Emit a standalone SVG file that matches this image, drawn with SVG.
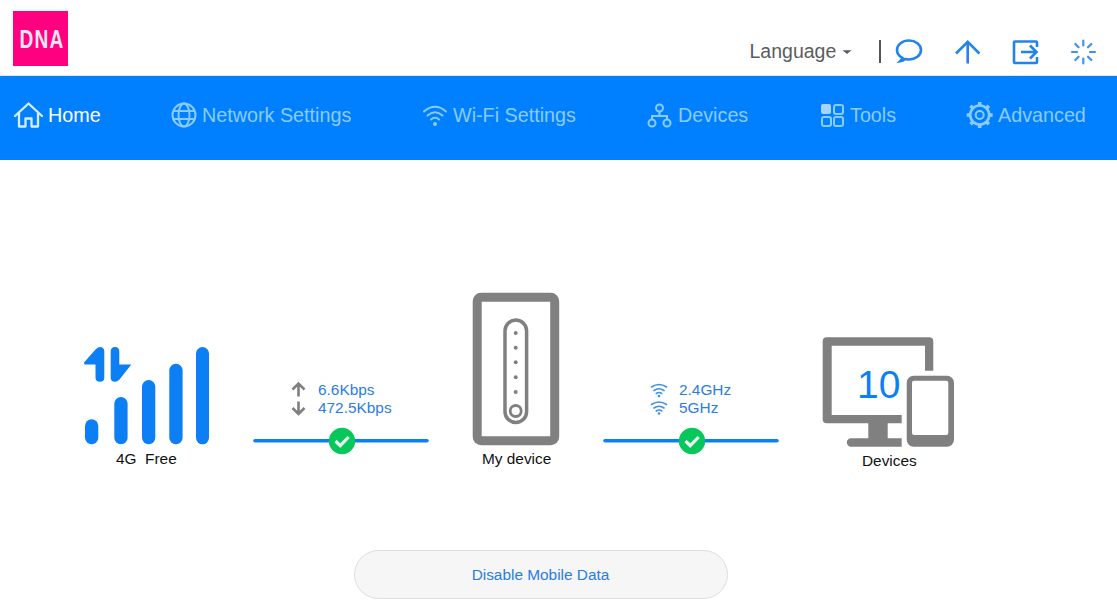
<svg xmlns="http://www.w3.org/2000/svg" width="1117" height="611" viewBox="0 0 1117 611">
<style>
text{font-family:"Liberation Sans",Arial,sans-serif}
.nav{font-size:19.75px;fill:#8accff}
.ni{fill:none;stroke:#8accff;stroke-width:2}
.top{fill:none;stroke:#2284ea;stroke-width:2.6}
.lbl{font-size:15.4px;fill:#111}
.blue{font-size:15.4px;fill:#2a7de1}
.gray{fill:#808080}
.bar{fill:#0d7ff5}
.link{stroke:#0d7ff5;stroke-width:3.6;stroke-linecap:round;fill:none}
.wifi{fill:none;stroke:#3d8fe8;stroke-width:1.6;stroke-linecap:round}
.arr{fill:none;stroke:#808080;stroke-width:2.6}
</style>
<rect width="1117" height="611" fill="#fff"/>
<g id="logo"><rect x="13" y="11" width="55" height="55" fill="#ff0080"/><text transform="translate(19.500 48) scale(.72 1)" x="0 20.800 41.600" y="0" font-size="26.500" font-weight="700" style="fill:#ffe6f2">DNA</text></g>
<g id="topbar">
<text x="749.500" y="58" font-size="19.5" fill="#5c5c5c">Language</text>
<path d="M842.500 50.300h9l-4.500 3.600z" fill="#5c5c5c"/>
<path d="M880 40v23" stroke="#555" stroke-width="2"/>
<path class="top" d="M902.500 58c-3.500-2-5.500-4.700-5.500-8 0-5.500 5.500-9.500 12-9.500s12 4 12 9.500-5.500 9.500-12 9.500c-1.300 0-2.600-.2-3.800-.5-1.500 1.300-3.200 2-5.200 2.300 1.300-1.300 2.400-2.300 2.500-3.300z"/>
<path class="top" d="M967.700 63.500V42M956 53.500l11.700-11.700 11.700 11.700"/>
<path class="top" d="M1037 47v-4.500a1 1 0 0 0-1-1h-21a1 1 0 0 0-1 1v19.500a1 1 0 0 0 1 1h21a1 1 0 0 0 1-1V57M1021 52h15.500M1030 45.500l6.500 6.500-6.500 6.500"/>
<g class="top" stroke-linecap="round" style="stroke-width:2.200;stroke:#3f93ec"><path d="M1083.300 40.500v5M1083.300 58.500v5M1072 52h5M1090 52h5M1075.300 44l3.300 3.300M1088 56.700l3.300 3.300M1075.300 60l3.300-3.300M1088 47.300l3.300-3.300"/></g>
</g>
<rect x="0" y="75" width="1117" height="1" fill="#e6e6e6"/>
<rect x="0" y="76" width="1117" height="84" fill="#007fff"/>
<g id="nav-home"><path d="M15 116l13.500-12.500L42 116M19 113v13.500h6.500v-8h6v8H38V113" fill="none" stroke="#d8ecff" stroke-width="2.300" stroke-linejoin="round" stroke-linecap="round"/><text x="48" y="122" font-size="19.75" style="fill:#fff">Home</text></g>
<g id="nav-network"><circle class="ni" cx="184" cy="115" r="11.500"/><ellipse class="ni" cx="184" cy="115" rx="5.500" ry="11.500"/><path class="ni" d="M173 111h22M173 119h22"/><text class="nav" x="202" y="122">Network Settings</text></g>
<g id="nav-wifi"><path class="ni" stroke-linecap="round" d="M424 111.500q11-9.500 22 0M427.500 115.500q7.500-6.500 15 0M431 119.500q4-3.500 8 0"/><circle cx="435" cy="124" r="2" fill="#8accff"/><text class="nav" x="453" y="122">Wi-Fi Settings</text></g>
<g id="nav-devices"><circle class="ni" cx="659.500" cy="108" r="3.500"/><circle class="ni" cx="652" cy="123" r="3.500"/><circle class="ni" cx="667" cy="123" r="3.500"/><path class="ni" d="M659.500 111.500v4.500M652 119.500V116h15v3.500"/><text class="nav" x="678" y="122">Devices</text></g>
<g id="nav-tools"><rect x="821" y="104" width="10" height="10" rx="2" fill="#a6d3ff"/><rect class="ni" x="834" y="105" width="9" height="9" rx="2"/><rect class="ni" x="822" y="117" width="9" height="9" rx="2"/><rect class="ni" x="834" y="117" width="9" height="9" rx="2"/><text class="nav" x="850" y="122">Tools</text></g>
<g id="nav-advanced"><circle cx="979.700" cy="115" r="9.500" fill="none" stroke="#8accff" stroke-width="2.600"/><circle class="ni" cx="979.700" cy="115" r="4"/><path d="M979.700 102v4M979.700 124v4M966.700 115h4M988.700 115h4M970.500 105.800l2.800 2.800M986.100 121.400l2.800 2.800M970.500 124.200l2.800-2.800M986.100 108.600l2.800-2.800" stroke="#8accff" stroke-width="3.500" fill="none"/><text class="nav" x="998" y="122">Advanced</text></g>
<g id="connectors">
<path class="link" d="M255 440.700h172"/>
<path class="link" d="M605 440.700h172"/>
</g>
<g id="link-status-internet"><circle cx="342" cy="441" r="13.200" fill="#05c75a"/><path d="M335.500 441l4.700 4.700 8.500-8.700" fill="none" stroke="#e8fff0" stroke-width="3.200"/>
<path class="arr" d="M298.500 396.500V384M292.500 389.500l6-6 6 6M298.500 401.500V414M292.500 408l6 6 6-6"/>
<text class="blue" x="318" y="395">6.6Kbps</text><text class="blue" x="318" y="413">472.5Kbps</text></g>
<g id="link-status-wifi"><circle cx="692" cy="441" r="13.200" fill="#05c75a"/><path d="M685.500 441l4.700 4.700 8.500-8.700" fill="none" stroke="#e8fff0" stroke-width="3.200"/>
<path class="wifi" d="M651.500 387q7.500-5 15 0M654 390.500q5-3.500 10 0M656.300 393.500q2.700-2 5.400 0"/><circle cx="659" cy="396" r="1.300" fill="#3d8fe8"/>
<path class="wifi" d="M651.500 404.500q7.500-5 15 0M654 408q5-3.500 10 0M656.300 411q2.700-2 5.400 0"/><circle cx="659" cy="413.500" r="1.300" fill="#3d8fe8"/>
<text class="blue" x="679" y="395">2.4GHz</text><text class="blue" x="679" y="413">5GHz</text></g>
<g id="node-signal">
<rect class="bar" x="85" y="419.300" width="13.300" height="25" rx="6.600"/>
<rect class="bar" x="114.300" y="397" width="13.300" height="47.300" rx="6.600"/>
<rect class="bar" x="142" y="380" width="13.300" height="64.300" rx="6.600"/>
<rect class="bar" x="169.300" y="363.700" width="13.300" height="80.600" rx="6.600"/>
<rect class="bar" x="196" y="347" width="13" height="97.300" rx="6.500"/>
<path class="bar" d="M84 362.500L95.500 349.500Q97.500 347 100 347Q104.300 347 104.300 351.500V377.500Q104.300 381.800 100 381.800Q95.500 381.800 95.500 377.500V364.500H84.500Z"/>
<path class="bar" d="M131.300 364.500L119.500 379.500Q117.500 381.800 115 381.800Q110.700 381.800 110.700 377.500V351.500Q110.700 347 115 347Q119.300 347 119.300 351.500V364.500Z"/>
<text class="lbl" x="116" y="464" xml:space="preserve">4G  Free</text>
</g>
<g id="node-router">
<rect x="477.200" y="297.300" width="77.500" height="143.500" rx="4" fill="none" stroke="#808080" stroke-width="9"/>
<rect x="505" y="320" width="21.600" height="102.500" rx="10.800" fill="none" stroke="#808080" stroke-width="3.500"/>
<g class="gray"><circle cx="515.700" cy="333" r="2"/><circle cx="515.700" cy="347.700" r="2"/><circle cx="515.700" cy="362.300" r="2"/><circle cx="515.700" cy="377.300" r="2"/><circle cx="515.700" cy="392" r="2"/></g>
<circle cx="515.700" cy="411" r="5.500" fill="none" stroke="#808080" stroke-width="2.800"/>
<text class="lbl" x="482" y="464">My device</text>
</g>
<g id="node-devices">
<path class="gray" d="M826.700 337.300H929.300a4 4 0 0 1 4 4V370.700H925V345.700H831.700V415H901.700V423.300H887.700V438.300H901.700V446.700H851a4.200 4.200 0 0 1 0-8.400H868.300V423.300H826.700a4 4 0 0 1-4-4V341.300a4 4 0 0 1 4-4Z"/>
<path class="gray" fill-rule="evenodd" d="M913.700 375.700H947a7 7 0 0 1 7 7V439.700a7 7 0 0 1-7 7H913.700a7 7 0 0 1-7-7V382.700a7 7 0 0 1 7-7ZM914 380.700a2 2 0 0 0-2 2V433a2 2 0 0 0 2 2H946.300a2 2 0 0 0 2-2V382.700a2 2 0 0 0-2-2Z"/>
<text x="857" y="398" font-size="39" style="fill:#0d7ff5">10</text>
<text class="lbl" x="862" y="466">Devices</text>
</g>
<g id="btn-disable"><rect x="354.500" y="550.500" width="373" height="48" rx="24" fill="#f6f6f6" stroke="#dedede"/><text class="blue" x="540.500" y="580" text-anchor="middle">Disable Mobile Data</text></g>
</svg>
